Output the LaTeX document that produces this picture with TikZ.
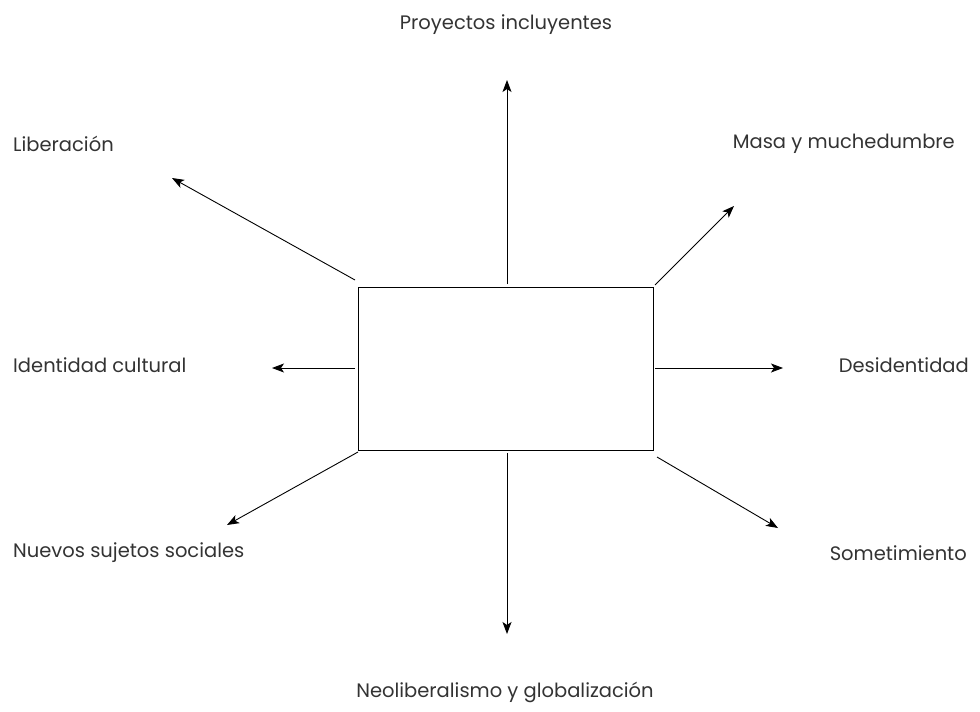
\documentclass[tikz,border=0pt]{standalone}
\usepackage{fontspec}
\setmainfont{Poppins}
\usetikzlibrary{arrows.meta}
\begin{document}
\begin{tikzpicture}[x=1pt,y=-1pt,
  lbl/.style={font=\fontsize{19.5}{22}\selectfont, text=black!80, inner sep=0pt},
  arr/.style={-{Stealth[length=12pt,width=9pt,inset=3pt]}, line width=0.9pt},
  box/.style={draw, line width=1pt, minimum width=295pt, minimum height=163pt, inner sep=0pt}]
\useasboundingbox (0,0) rectangle (980,712);
\node[box] (b) at (505.5,368.5) {};
% labels
\node[lbl] (pi) at (506,25) {Proyectos incluyentes};
\node[lbl, anchor=west] (li) at (13,144) {Liberación};
\node[lbl, anchor=east] (mm) at (955,144) {Masa y muchedumbre};
\node[lbl, anchor=west] (ic) at (13,365) {Identidad cultural};
\node[lbl, anchor=east] (de) at (969,365) {Desidentidad};
\node[lbl, anchor=west] (ns) at (13,553) {Nuevos sujetos sociales};
\node[lbl, anchor=east] (so) at (967,553) {Sometimiento};
\node[lbl] (ng) at (505,692) {Neoliberalismo y globalización};
% connector ends
\coordinate (s1) at (507,284); \coordinate (e1) at (507,80);
\coordinate (s2) at (507,453); \coordinate (e2) at (507,634);
\coordinate (s3) at (355,280); \coordinate (e3) at (172,178);
\coordinate (s4) at (355,368); \coordinate (e4) at (272,368);
\coordinate (s5) at (358,452); \coordinate (e5) at (227,525);
\coordinate (s6) at (655,285); \coordinate (e6) at (734,206);
\coordinate (s7) at (655,368); \coordinate (e7) at (783,368);
\coordinate (s8) at (657,457); \coordinate (e8) at (778,528);
\foreach \i in {1,...,8} {\draw[arr] (s\i) -- (e\i);}
\end{tikzpicture}
\end{document}
